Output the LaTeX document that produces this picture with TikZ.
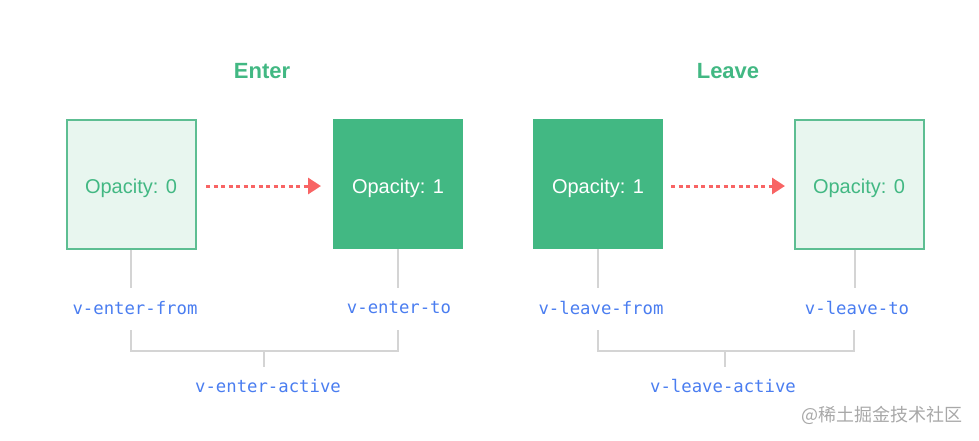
\documentclass[tikz,border=0pt]{standalone}
\usepackage{fontspec}
\setmainfont{Liberation Sans}
\newfontfamily\codefont{DejaVu Sans Mono}
\newfontfamily\cjkfont{Noto Sans CJK SC}
\usetikzlibrary{arrows.meta,calc}
\definecolor{vgreen}{HTML}{42B883}
\definecolor{vlight}{HTML}{E8F6EF}
\definecolor{vborder}{HTML}{5DBE92}
\definecolor{vred}{HTML}{F86464}
\definecolor{vblue}{HTML}{4A7DF0}
\definecolor{vgray}{HTML}{D4D4D4}
\definecolor{wmgray}{HTML}{A8A8A8}
\tikzset{
  boxtext/.style={font=\fontsize{20}{24}\selectfont, text height=18pt, text depth=0pt},
  lightbox/.style={draw=vborder, line width=2pt, fill=vlight, minimum size=129pt, inner sep=0pt,
    text=vgreen, boxtext},
  darkbox/.style={fill=vgreen, minimum size=130pt, inner sep=0pt,
    text=white, boxtext},
  heading/.style={text=vgreen, font=\fontsize{22}{26}\selectfont\bfseries},
  codelabel/.style={text=vblue, inner sep=0pt, font=\codefont\fontsize{17.3}{20}\selectfont},
  guide/.style={draw=vgray, line width=1.5pt},
  flow/.style={draw=vred, line width=3pt, dash pattern=on 4pt off 3.5pt,
    -{Triangle[length=13pt,width=16pt]}}
}
\begin{document}
\begin{tikzpicture}[x=1pt,y=-1pt]
\useasboundingbox (0,0) rectangle (979,440);
% headings
\node[heading] (enter) at (262,71) {Enter};
\node[heading] (leave) at (728,71) {Leave};
% boxes
\node[lightbox] (b1) at (131,184) {Opacity: 0};
\node[darkbox]  (b2) at (398,184) {Opacity: 1};
\node[darkbox]  (b3) at (598,184) {Opacity: 1};
\node[lightbox] (b4) at (859,184) {Opacity: 0};
% arrows
\coordinate (a1s) at (206,186);
\coordinate (a1e) at (321,186);
\coordinate (a2s) at (671,186);
\coordinate (a2e) at (785,186);
\draw[flow] (a1s) -- (a1e);
\draw[flow] (a2s) -- (a2e);
% guide line ends
\coordinate (t1) at (131,288);
\coordinate (t2) at (398,288);
\coordinate (t3) at (598,288);
\coordinate (t4) at (855,288);
\draw[guide] (b1.south) -- (t1);
\draw[guide] (b2.south) -- (t2);
\draw[guide] (b3.south) -- (t3);
\draw[guide] (t4 |- b4.south) -- (t4);
% labels
\node[codelabel] (l1) at (135,308) {v-enter-from};
\node[codelabel] (l2) at (399,308) {v-enter-to};
\node[codelabel] (l3) at (601,308) {v-leave-from};
\node[codelabel] (l4) at (857,308) {v-leave-to};
\node[codelabel] (la1) at (268,386) {v-enter-active};
\node[codelabel] (la2) at (723,386) {v-leave-active};
% brackets
\coordinate (k1a) at (131,330);
\coordinate (k1b) at (398,330);
\coordinate (k1m) at (264,351);
\coordinate (k1t) at (264,367);
\draw[guide] (k1a) -- (k1a |- k1m) -- (k1b |- k1m) -- (k1b);
\draw[guide] (k1m) -- (k1t);
\coordinate (k2a) at (598,330);
\coordinate (k2b) at (854,330);
\coordinate (k2m) at (725,351);
\coordinate (k2t) at (725,367);
\draw[guide] (k2a) -- (k2a |- k2m) -- (k2b |- k2m) -- (k2b);
\draw[guide] (k2m) -- (k2t);
% watermark
\node[text=wmgray, anchor=east, inner sep=0pt, font=\cjkfont\fontsize{18}{21}\selectfont] (wm) at (963,415) {@稀土掘金技术社区};
\end{tikzpicture}
\end{document}
